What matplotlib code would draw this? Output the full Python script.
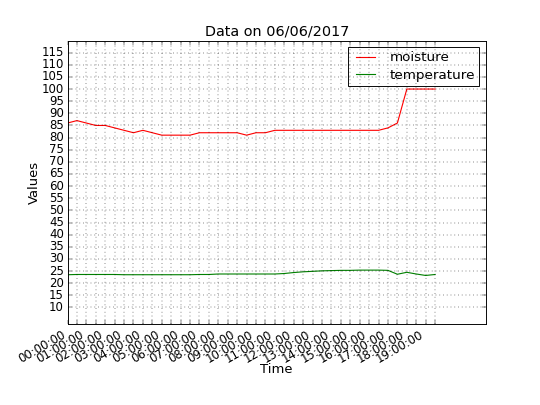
import matplotlib
matplotlib.use('Agg')
import matplotlib.pyplot as plt

# readings every half hour, index based x axis
moisture = [86, 87, 86, 85, 85, 84, 83, 82, 83, 82,
            81, 81, 81, 81, 82, 82, 82, 82, 82, 81,
            82, 82, 83, 83, 83, 83, 83, 83, 83, 83,
            83, 83, 83, 83, 84, 86, 100, 100, 100, 100]
temperature = [23.5, 23.6, 23.6, 23.6, 23.6, 23.6, 23.5, 23.5, 23.5, 23.5,
               23.5, 23.5, 23.5, 23.5, 23.6, 23.6, 23.8, 23.8, 23.8, 23.8,
               23.8, 23.8, 23.8, 24.0, 24.4, 24.7, 24.9, 25.1, 25.2, 25.3,
               25.3, 25.4, 25.4, 25.4, 25.3, 23.7, 24.5, 23.8, 23.2, 23.6]
hour_labels = ['%02d:00:00' % h for h in range(20)]

x = list(range(len(moisture)))
tick_labels = []
for i in x:
    if i % 2 == 0:
        tick_labels.append(hour_labels[i // 2])
    else:
        tick_labels.append('')

plt.style.use('classic')
plt.rcParams['xtick.labelsize'] = 12.5
plt.rcParams['ytick.labelsize'] = 12.5
fig, ax = plt.subplots(figsize=(8, 6), dpi=67.5)

ax.plot(x, moisture, 'r', label='moisture', lw=1.2)
ax.plot(x, temperature, 'g', label='temperature', lw=1.2)

lo = min(min(moisture), min(temperature))
hi = max(max(moisture), max(temperature))
ax.set_ylim(lo - 20, hi + 20)
ax.set_yticks(range(10, 120, 5))
ax.set_xlim(0, 44.4)
ax.set_xticks(x)
ax.set_xticklabels(tick_labels)

ax.grid(True)
ax.set_title('Data on 06/06/2017', fontsize=15.4)
ax.set_xlabel('Time', labelpad=-2, fontsize=14)
ax.set_ylabel('Values', labelpad=1, fontsize=14)
leg = ax.legend(loc='upper right', labelspacing=0.35, borderpad=0.3)
leg.set_zorder(1)

fig.autofmt_xdate()
fig.savefig('out.png', dpi=67.5)
